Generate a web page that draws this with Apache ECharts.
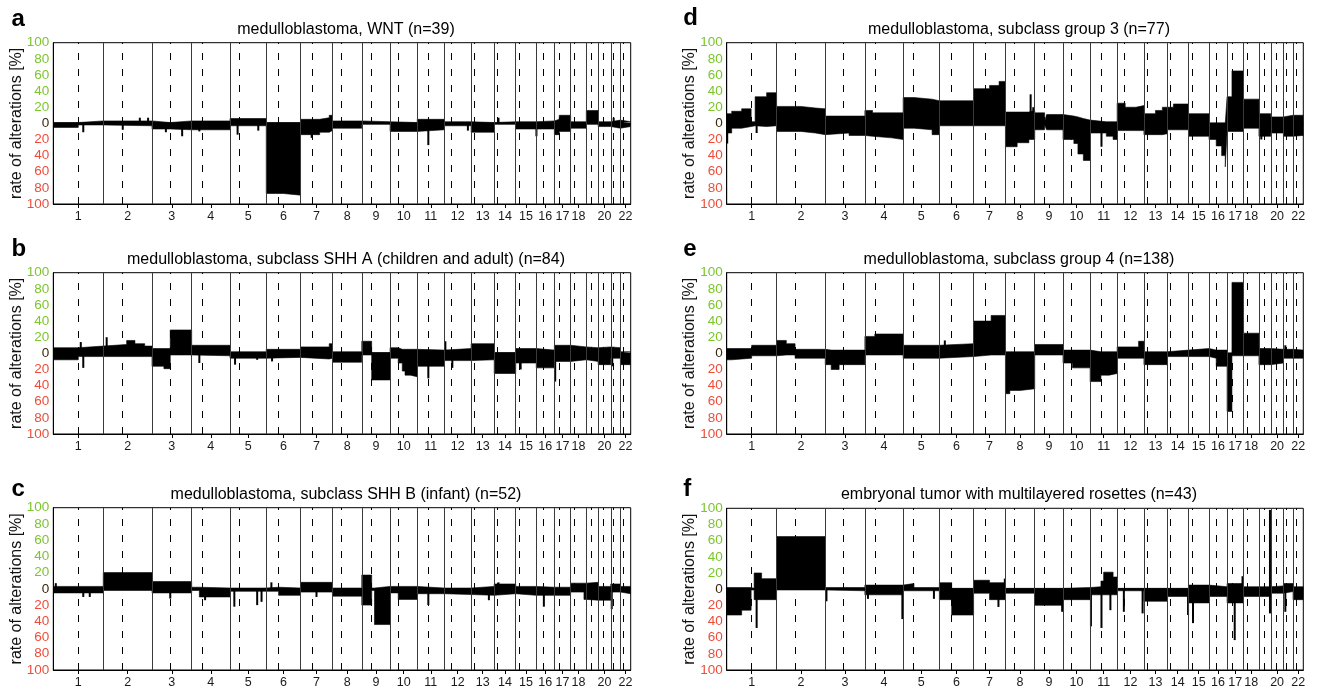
<!DOCTYPE html>
<html><head><meta charset="utf-8">
<script src="https://cdn.jsdelivr.net/npm/echarts@6/dist/echarts.min.js"></script>
<style>html,body{margin:0;padding:0;background:#fff}#c{width:1317px;height:689px}</style>
</head><body><div id="c"></div>
<script>
// ---------- data ----------
const chromosomes = ['1','2','3','4','5','6','7','8','9','10','11','12','13','14','15','16','17','18','19','20','21','22'];
const chromLengthsMb = [249.25,243.20,198.02,191.15,180.92,171.12,159.14,146.36,141.21,135.53,135.01,133.85,115.17,107.35,102.53,90.35,81.20,78.08,59.13,63.03,48.13,51.30];
const centromereMb = [125.0,93.3,91.0,50.4,48.4,61.0,59.9,45.6,49.0,40.2,53.7,35.8,17.9,17.6,19.0,36.6,24.0,17.2,26.5,27.5,13.2,14.7];
const labelledChromosomes = ['1','2','3','4','5','6','7','8','9','10','11','12','13','14','15','16','17','18','20','22'];
const yTickValues = [-100,-80,-60,-40,-20,0,20,40,60,80,100];
const panelLetters = ['a','b','c','d','e','f'];
const panelTitles = [
  'medulloblastoma, WNT (n=39)',
  'medulloblastoma, subclass SHH A (children and adult) (n=84)',
  'medulloblastoma, subclass SHH B (infant) (n=52)',
  'medulloblastoma, subclass group 3 (n=77)',
  'medulloblastoma, subclass group 4 (n=138)',
  'embryonal tumor with multilayered rosettes (n=43)'
];
// segments: [chromosome, start fraction of chromosome, gain %, loss %]
const segmentsA = [
[1,0,1,5],[1,0.5,3,2],[2,0,3,3],[3,0,1,7],[3,0.46,3,8],[4,0,3,8],[5,0,6,3],
[6,0,1,87],[6,0.5,1,89],[7,0,5,14],[7,0.6,7,11],[7,0.9,10,9],[8,0,3,6],[9,0,2,1],
[10,0,1,10],[11,0,5,8],[12,0,2,3],[13,0,1,11],[14,0,2,1],[15,0,2,7],[16,0,3,7],
[17,0,5,14],[17,0.3,10,10],[18,0,2,6],[19,0,16,1],[20,0,2,4],[21,0,4,6],[22,0,2,4]];
const segmentsB = [
[1,0,7,8],[1,0.5,9,4],[2,0,11,4],[2,0.48,16,4],[2,0.65,12,4],[2,0.85,9,4],
[3,0,6,16],[3,0.3,6,19],[3,0.46,29,2],[4,0,10,3],[5,0,2,6],[6,0,5,5],[7,0,8,7],[7,0.9,12,6],
[8,0,2,11],[9,0,15,2],[9,0.35,1,33],[10,0,7,6],[10,0.3,5,12],[10,0.45,5,22],[10,0.55,5,27],[10,0.75,5,29],
[11,0,4,16],[12,0,6,9],[13,0,12,8],[14,0,1,25],[15,0,6,12],[16,0,4,18],[17,0,10,10],
[18,0,8,8],[19,0,7,10],[20,0,8,14],[21,0,7,6],[22,0,2,14]];
const segmentsC = [
[1,0,3,5],[2,0,20,2],[3,0,9,5],[4,0,2,2],[4,0.2,1,10],[5,0,1,3],[6,0,2,3],[6,0.36,1,8],
[7,0,8,4],[8,0,1,9],[9,0,17,20],[9,0.35,1,2],[9,0.45,3,44],[10,0,3,5],[10,0.3,3,13],
[11,0,1,6],[12,0,1,7],[13,0,3,8],[14,0,6,6],[15,0,3,8],[16,0,2,8],[17,0,2,8],
[18,0,7,4],[18,0.85,7,13],[19,0,8,14],[20,0,3,14],[21,0,6,4],[22,0,3,6]];
const segmentsD = [
[1,0,12,12],[1,0.1,15,6],[1,0.3,18,4],[1,0.49,2,3],[1,0.57,33,4],[1,0.8,38,3],
[2,0,21,10],[2,0.5,19,12],[2,0.8,18,14],[3,0,9,12],[3,0.6,9,15],
[4,0,16,16],[4,0.2,13,18],[4,0.7,13,20],[5,0,32,6],[5,0.3,30,8],[5,0.8,28,14],
[6,0,28,3],[7,0,43,3],[7,0.5,47,3],[7,0.8,52,3],[8,0,14,29],[8,0.4,14,24],[8,0.8,16,20],
[9,0,13,8],[9,0.35,2,2],[9,0.42,11,8],[10,0,9,20],[10,0.4,8,25],[10,0.55,6,38],[10,0.75,4,46],
[11,0,2,12],[11,0.6,2,16],[11,0.85,2,20],[12,0,25,9],[12,0.3,20,9],[12,0.7,22,9],
[13,0,12,14],[13,0.5,16,14],[13,0.8,20,13],[14,0,20,8],[14,0.3,24,8],[15,0,12,16],
[16,0,0,20],[16,0.4,0,28],[16,0.7,0,40],[16,0.9,0,54],[17,0,33,10],[17,0.3,65,10],
[18,0,30,6],[19,0,12,16],[20,0,8,12],[21,0,10,16],[22,0,10,15]];
const segmentsE = [
[1,0,6,8],[1,0.1,6,6],[1,0.5,10,3],[2,0,16,2],[2,0.2,12,2],[2,0.38,5,6],
[3,0,4,14],[3,0.15,4,20],[3,0.35,4,14],[4,0,21,2],[4,0.26,24,2],[5,0,10,6],[6,0,12,4],
[7,0,40,2],[7,0.55,47,2],[8,0,2,50],[8,0.15,2,46],[8,0.5,2,44],[9,0,11,2],
[10,0,4,12],[10,0.35,4,18],[11,0,2,35],[11,0.4,2,27],[11,0.7,2,25],[12,0,8,6],[12,0.8,15,6],
[13,0,2,14],[14,0,4,4],[15,0,6,4],[16,0,4,6],[16,0.4,4,16],[17,0,0,72],[17,0.3,88,3],
[18,0,25,3],[19,0,6,14],[20,0,5,12],[21,0,5,6],[22,0,4,6]];
const segmentsF = [
[1,0,2,32],[1,0.3,2,26],[1,0.49,1,1],[1,0.55,20,13],[1,0.7,13,13],[2,0,65,1],[3,0,2,2],
[4,0,5,7],[5,0,7,2],[5,0.3,2,2],[6,0,8,13],[6,0.36,1,32],[7,0,11,5],[7,0.5,8,13],
[8,0,1,5],[9,0,1,20],[10,0,2,13],[11,0,3,7],[11,0.4,10,7],[11,0.5,21,7],[11,0.85,15,7],
[12,0,1,2],[13,0,1,15],[14,0,1,9],[15,0,5,17],[16,0,3,9],[17,0,7,17],[18,0,3,9],
[19,0,3,9],[20,0,4,5],[21,0,7,3],[22,0,3,13]];
// focal spikes: [chromosome, fraction, value (+gain / -loss)]
const spikesA = [[1,0.6,-11],[2,0.4,-8],[2,0.75,7],[2,0.92,7],[3,0.35,-11],[3,0.76,-16],[4,0.2,-10],[5,0.21,-14],[5,0.78,-9],[7,0.35,-18],[11,0.41,-27],[12,0.88,-9],[14,0.2,7],[16,0.01,-16],[21,0.3,7]];
const spikesB = [[1,0.55,14],[1,0.6,-18],[2,0.07,20],[4,0.2,-12],[5,0.14,-14],[5,0.75,-8],[6,0.17,-10],[11,0.41,-31],[12,0.04,15],[12,0.3,-18],[15,0.24,-20],[17,0.05,-35],[21,0.15,-16]];
const spikesC = [[1,0.05,7],[1,0.6,-10],[1,0.73,-10],[3,0.46,-12],[4,0.35,-14],[5,0.12,-22],[5,0.75,-20],[5,0.87,-16],[6,0.15,8],[7,0.5,-10],[11,0.41,-20],[13,0.77,-14],[14,0.2,8],[16,0.42,-22],[21,0.1,-25]];
const spikesD = [[1,0.01,-25],[1,0.6,-12],[8,0.86,36],[8,0.95,20],[11,0.42,-29],[19,0.2,-20]];
const spikesE = [[6,0.16,16],[21,0.2,10]];
const spikesF = [[1,0.6,-48],[3,0.03,-15],[4,0.08,-12],[4,0.98,-37],[5,0.85,-12],[7,0.78,-22],[7,0.98,13],[9,0.97,-28],[11,0.03,-46],[11,0.42,-48],[11,0.75,-26],[12,0.25,-28],[12,0.95,-30],[14,0.98,-32],[15,0.22,-42],[17,0.47,-63],[17,0.95,16],[19,0.93,98],[19,0.93,-30],[21,0.2,-28]];

const panelSegments = [segmentsA,segmentsB,segmentsC,segmentsD,segmentsE,segmentsF];
const panelSpikes = [spikesA,spikesB,spikesC,spikesD,spikesE,spikesF];

// ---------- layout ----------
const FONT = '"Liberation Sans", Arial, Helvetica, sans-serif';
const layout = [
  {left:53.3, top:42.7, width:577.4, height:161.3, letterX:11.5, letterBase:28.3},
  {left:53.3, top:272.7, width:577.4, height:161.3, letterX:11.5, letterBase:258.3},
  {left:53.3, top:507.7, width:577.4, height:162.3, letterX:11.5, letterBase:498.3},
  {left:726.7, top:42.7, width:576.6, height:161.3, letterX:683.3, letterBase:26.7},
  {left:726.7, top:272.7, width:576.6, height:161.3, letterX:683.3, letterBase:258.3},
  {left:726.7, top:508.3, width:576.6, height:161.7, letterX:683.3, letterBase:498.3}
];

const chromStart = []; let acc = 0;
chromLengthsMb.forEach(l => { chromStart.push(acc); acc += l; });
const genomeEnd = acc;
const centres = chromLengthsMb.map((l,i) => chromStart[i] + l/2);
const labelPositions = labelledChromosomes.map(n => centres[chromosomes.indexOf(n)]);
function labelFor(v){
  let best = 0, bd = Infinity;
  centres.forEach((c,i) => { const d = Math.abs(c - v); if (d < bd){bd = d; best = i;} });
  return chromosomes[best];
}
function buildSteps(segs, isGain){
  const pts = [];
  segs.forEach((s,i) => {
    const ci = s[0]-1, nx = segs[i+1];
    const f1 = (nx && nx[0] === s[0]) ? nx[1] : 1;
    const x0 = chromStart[ci] + s[1]*chromLengthsMb[ci];
    const x1 = chromStart[ci] + f1*chromLengthsMb[ci];
    const v = isGain ? s[2] : -s[3];
    pts.push([x0,v],[x1,v]);
  });
  return pts;
}
const grids = [], xAxes = [], yAxes = [], series = [], graphics = [];
layout.forEach((L,i) => {
  grids.push({left:L.left, top:L.top, width:L.width, height:L.height, show:true, borderColor:'#000', borderWidth:1, backgroundColor:'#fff', containLabel:false, outerBoundsMode:'none'});
  xAxes.push({type:'value', gridIndex:i, min:0, max:genomeEnd,
    axisLine:{show:true, onZero:false, lineStyle:{color:'#000', width:1}},
    axisTick:{show:true, customValues:labelPositions, length:4, lineStyle:{color:'#000'}},
    axisLabel:{customValues:labelPositions, formatter:labelFor, fontSize:12.5, color:'#1a1a1a', fontFamily:FONT, margin:6, hideOverlap:false},
    splitLine:{show:false}});
  yAxes.push({type:'value', gridIndex:i, min:-100, max:100, interval:20,
    axisLine:{show:true, onZero:false, lineStyle:{color:'#000'}},
    axisTick:{show:false},
    axisLabel:{fontSize:13.5, fontFamily:FONT, margin:4,
      formatter: v => String(Math.abs(v)),
      color: v => { const n = Number(v); return n > 0 ? '#7cc62c' : (n < 0 ? '#ee4d3a' : '#3a2608'); }},
    splitLine:{show:false},
    name:'rate of alterations [%]', nameLocation:'middle', nameGap:29, nameMoveOverlap:false,
    nameTextStyle:{fontSize:16, color:'#111', fontFamily:FONT}});
  const lineData = [];
  chromStart.slice(1).forEach(p => lineData.push({xAxis:p, lineStyle:{type:'solid', color:'#3a3a3a', width:1}}));
  centromereMb.forEach((c,k) => lineData.push({xAxis:chromStart[k]+c, lineStyle:{type:[7,9], color:'#000', width:1}}));
  series.push({type:'line', xAxisIndex:i, yAxisIndex:i, data:[[0,0]], symbol:'none', lineStyle:{width:0}, z:1, silent:true,
    markLine:{silent:true, symbol:['none','none'], label:{show:false}, animation:false, data:lineData}});
  series.push({type:'line', xAxisIndex:i, yAxisIndex:i, data:buildSteps(panelSegments[i], true), symbol:'none', showSymbol:false,
    lineStyle:{color:'#000', width:0.6}, areaStyle:{color:'#000', opacity:1}, z:3, silent:true});
  series.push({type:'line', xAxisIndex:i, yAxisIndex:i, data:buildSteps(panelSegments[i], false), symbol:'none', showSymbol:false,
    lineStyle:{color:'#000', width:0.6}, areaStyle:{color:'#000', opacity:1}, z:3, silent:true});
  series.push({type:'bar', xAxisIndex:i, yAxisIndex:i, barWidth:2, barGap:'-100%',
    data:panelSpikes[i].map(s => [chromStart[s[0]-1] + s[1]*chromLengthsMb[s[0]-1], s[2]]),
    itemStyle:{color:'#000'}, z:3, silent:true});
  series.push({type:'line', xAxisIndex:i, yAxisIndex:i, data:[[0,0],[genomeEnd,0]], symbol:'none', lineStyle:{color:'#000', width:1.6}, z:4, silent:true});
  graphics.push({type:'text', x:L.left + L.width/2 + 4, y:L.top - 13.5, silent:true,
    style:{text:panelTitles[i], fill:'#000', font:'16px ' + FONT, fontSize:16, fontFamily:FONT, textAlign:'center', align:'center', textVerticalAlign:'middle', verticalAlign:'middle'}});
  graphics.push({type:'text', x:L.letterX, y:L.letterBase - 8.5, silent:true,
    style:{text:panelLetters[i], fill:'#000', font:'bold 24px ' + FONT, fontSize:24, fontWeight:'bold', fontFamily:FONT, textAlign:'left', align:'left', textVerticalAlign:'middle', verticalAlign:'middle'}});
});

const chart = echarts.init(document.getElementById('c'), null, {renderer:'canvas'});
chart.setOption({animation:false, backgroundColor:'#fff', grid:grids, xAxis:xAxes, yAxis:yAxes, series:series, graphic:{elements:graphics}});
</script></body></html>
